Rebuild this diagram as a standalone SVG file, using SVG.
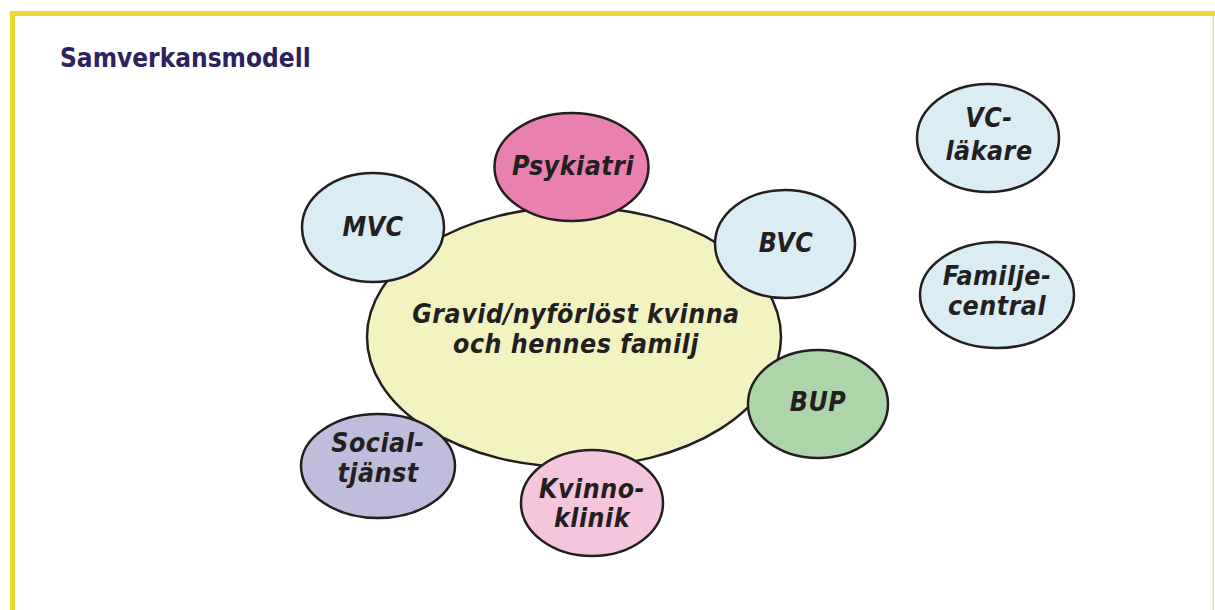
<svg xmlns="http://www.w3.org/2000/svg" width="1215" height="610" viewBox="0 0 1215 610">
<style>
.n{stroke:#231f20;stroke-width:2.5}
.t{font-family:"DejaVu Sans Condensed","DejaVu Sans",Verdana,sans-serif;font-weight:bold;font-style:italic;font-size:26.5px;letter-spacing:0.5px;fill:#231f20;text-anchor:middle}
.blue{fill:#daecf4}
</style>
<rect x="0" y="0" width="1215" height="610" fill="#ffffff"/>
<rect x="10" y="11" width="1205" height="5" fill="#ecd930"/>
<rect x="10" y="11" width="5" height="599" fill="#ecd930"/>
<rect x="1212.5" y="16" width="1.5" height="594" fill="#f3e58a"/>
<text x="60" y="67" style="font-family:'DejaVu Sans Condensed','DejaVu Sans',Verdana,sans-serif;font-weight:bold;font-size:26px;fill:#2e2160">Samverkansmodell</text>
<g id="center">
<ellipse class="n" cx="574" cy="337" rx="207" ry="130" fill="#f3f3c2"/>
<text class="t" x="576" y="323">Gravid/nyförlöst kvinna</text>
<text class="t" x="576" y="353">och hennes familj</text>
</g>
<g id="psykiatri">
<ellipse class="n" cx="571.5" cy="167" rx="77" ry="54" fill="#e980b0"/>
<text class="t" x="573" y="175">Psykiatri</text>
</g>
<g id="mvc">
<ellipse class="n blue" cx="373" cy="227.5" rx="71" ry="54.5"/>
<text class="t" x="373" y="236">MVC</text>
</g>
<g id="bvc">
<ellipse class="n blue" cx="785" cy="244" rx="70" ry="54"/>
<text class="t" x="786" y="252">BVC</text>
</g>
<g id="vc">
<ellipse class="n blue" cx="988" cy="138" rx="71" ry="54"/>
<text class="t" x="989" y="127">VC-</text>
<text class="t" x="989" y="160">läkare</text>
</g>
<g id="familjecentral">
<ellipse class="n blue" cx="997" cy="295" rx="77" ry="53"/>
<text class="t" x="997" y="285">Familje-</text>
<text class="t" x="997" y="315">central</text>
</g>
<g id="bup">
<ellipse class="n" cx="818" cy="404" rx="70" ry="54" fill="#acd6a9"/>
<text class="t" x="818" y="411">BUP</text>
</g>
<g id="socialtjanst">
<ellipse class="n" cx="378" cy="466" rx="77" ry="52" fill="#c0bcdb"/>
<text class="t" x="378" y="452">Social-</text>
<text class="t" x="378" y="482">tjänst</text>
</g>
<g id="kvinnoklinik">
<ellipse class="n" cx="592" cy="503" rx="71" ry="53" fill="#f3c6dd"/>
<text class="t" x="592" y="498">Kvinno-</text>
<text class="t" x="592" y="527">klinik</text>
</g>
<g id="connectors"></g>
</svg>
